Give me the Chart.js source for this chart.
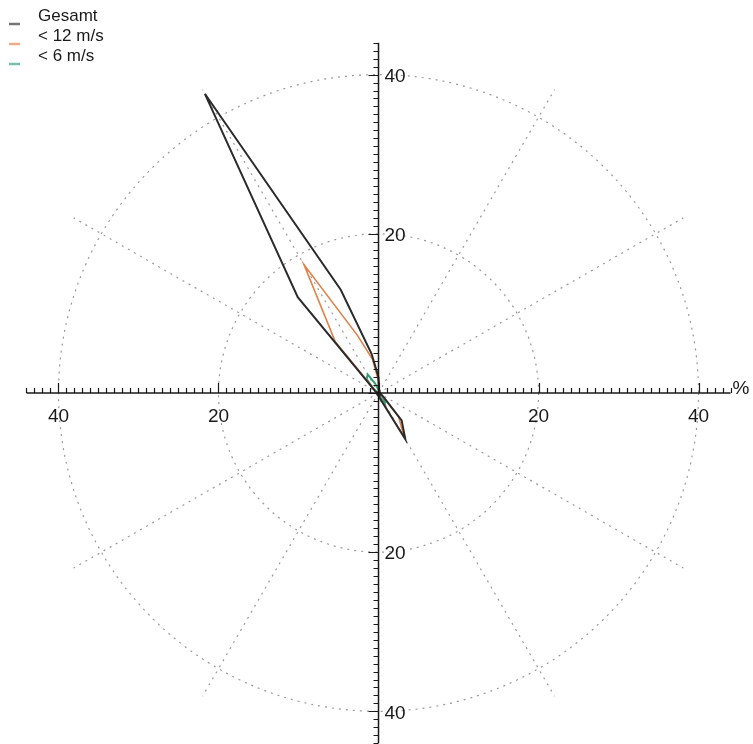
<!DOCTYPE html>
<html>
<head>
  <meta charset="UTF-8">
  <title>Windrose</title>
  <style>
    html, body { margin: 0; padding: 0; background: #fff; }
    #wrap { width: 753px; height: 744px; }
  </style>
</head>
<body>
<div id="wrap">
  <canvas id="myChart"></canvas>
</div>
<script src="https://cdn.jsdelivr.net/npm/chart.js"></script>
<script>
// Richtungen in Grad (10er Sektoren), Werte in %
const directions = [0, 10, 20, 30, 40, 50, 60, 70, 80, 90, 100, 110, 120, 130, 140, 150, 160, 170,
  180, 190, 200, 210, 220, 230, 240, 250, 260, 270, 280, 290, 300, 310, 320, 330, 340, 350];
const gesamt = [2.0, 0.4, 0.3, 0.2, 0.2, 0.2, 0.2, 0.2, 0.2, 0.2, 0.2, 0.3, 0.4, 0.9, 4.5, 6.7, 1.0, 0.5,
  0.3, 0.2, 0.2, 0.2, 0.2, 0.2, 0.2, 0.2, 0.2, 0.2, 0.2, 0.3, 0.5, 0.9, 15.7, 43.4, 13.8, 5.0];
const unter12 = [1.5, 0.3, 0.2, 0.1, 0.1, 0.1, 0.1, 0.1, 0.1, 0.1, 0.1, 0.2, 0.3, 0.7, 3.9, 6.5, 0.9, 0.4,
  0.2, 0.1, 0.1, 0.1, 0.1, 0.1, 0.1, 0.1, 0.1, 0.1, 0.1, 0.2, 0.4, 0.6, 8.4, 18.6, 7.7, 4.3];
const unter6 = [0.4, 0.2, 0.1, 0.1, 0.1, 0.1, 0.1, 0.1, 0.1, 0.1, 0.1, 0.1, 0.2, 0.5, 1.2, 1.6, 0.6, 0.3,
  0.1, 0.1, 0.1, 0.1, 0.1, 0.1, 0.1, 0.1, 0.1, 0.1, 0.1, 0.1, 0.3, 0.9, 2.3, 2.7, 1.3, 0.6];
const seriesLabels = ['Gesamt', '< 12 m/s', '< 6 m/s'];
const tickLabels = [20, 40];
const gridRings = [20, 40];
const spokeAngles = [30, 60, 120, 150, 210, 240, 300, 330];
const axisMax = 44;

const colors = ['#2b2b2b', '#e0814a', '#2e9f76'];

// polar -> x/y (0 Grad = Nord, im Uhrzeigersinn)
function toXY(vals) {
  const pts = vals.map((r, i) => {
    const a = directions[i] * Math.PI / 180;
    return { x: r * Math.sin(a), y: r * Math.cos(a) };
  });
  pts.push(pts[0]);
  return pts;
}

const roseGrid = {
  id: 'roseGrid',
  beforeDatasetsDraw(chart) {
    const ctx = chart.ctx, xs = chart.scales.x, ys = chart.scales.y;
    const cx = xs.getPixelForValue(0), cy = ys.getPixelForValue(0);
    ctx.save();
    ctx.strokeStyle = '#9a9a9a';
    ctx.lineWidth = 1.2;
    ctx.setLineDash([2, 5]);
    gridRings.forEach(r => {
      const rx = xs.getPixelForValue(r) - cx;
      const ry = cy - ys.getPixelForValue(r);
      ctx.beginPath();
      ctx.ellipse(cx, cy, rx, ry, 0, 0, Math.PI * 2);
      ctx.stroke();
    });
    spokeAngles.forEach(d => {
      const a = d * Math.PI / 180;
      ctx.beginPath();
      ctx.moveTo(cx, cy);
      ctx.lineTo(xs.getPixelForValue(axisMax * Math.sin(a)), ys.getPixelForValue(axisMax * Math.cos(a)));
      ctx.stroke();
    });
    ctx.restore();
  },
  afterDatasetsDraw(chart) {
    const ctx = chart.ctx, xs = chart.scales.x, ys = chart.scales.y;
    const cx = xs.getPixelForValue(0), cy = ys.getPixelForValue(0);
    ctx.save();
    ctx.strokeStyle = '#1a1a1a';
    ctx.lineWidth = 1.5;
    ctx.beginPath();
    ctx.moveTo(xs.getPixelForValue(-axisMax), cy);
    ctx.lineTo(xs.getPixelForValue(axisMax), cy);
    ctx.moveTo(cx, ys.getPixelForValue(axisMax));
    ctx.lineTo(cx, ys.getPixelForValue(-axisMax));
    ctx.stroke();
    ctx.lineWidth = 1.2;
    ctx.beginPath();
    for (let v = -axisMax; v <= axisMax; v++) {
      const len = (v % 20 === 0) ? 10 : 5;
      const px = Math.round(xs.getPixelForValue(v)) + 0.5;
      ctx.moveTo(px, cy);
      ctx.lineTo(px, cy - len);
      const py = Math.round(ys.getPixelForValue(v)) + 0.5;
      ctx.moveTo(cx, py);
      ctx.lineTo(cx - len, py);
    }
    ctx.stroke();

    ctx.fillStyle = '#1a1a1a';
    ctx.font = '19px "Liberation Sans", Arial, sans-serif';
    ctx.textAlign = 'center';
    ctx.textBaseline = 'middle';
    tickLabels.forEach(t => {
      [-t, t].forEach(v => ctx.fillText(String(t), xs.getPixelForValue(v), cy + 24));
    });
    ctx.textAlign = 'left';
    tickLabels.forEach(t => {
      [-t, t].forEach(v => ctx.fillText(String(t), cx + 6, ys.getPixelForValue(v) + 2));
    });
    ctx.fillText('%', xs.getPixelForValue(axisMax) + 2, cy - 4);

    // Legende
    ctx.font = '17px "Liberation Sans", Arial, sans-serif';
    ctx.textBaseline = 'alphabetic';
    chart.data.datasets.forEach((ds, i) => {
      const y = 21 + i * 20;
      ctx.fillStyle = '#1a1a1a';
      ctx.fillText(ds.label, 38, y);
      ctx.globalAlpha = 0.65;
      ctx.strokeStyle = ds.borderColor;
      ctx.lineWidth = 2.5;
      ctx.beginPath();
      ctx.moveTo(9, y + 3);
      ctx.lineTo(20, y + 3);
      ctx.stroke();
      ctx.globalAlpha = 1;
    });
    ctx.restore();
  }
};

const datasets = [gesamt, unter12, unter6].map((vals, i) => ({
  label: seriesLabels[i],
  data: toXY(vals),
  borderColor: colors[i],
  backgroundColor: colors[i],
  borderWidth: i === 1 ? 1.6 : 2,
  showLine: true,
  fill: false,
  pointRadius: 0,
  tension: 0
}));

const config = {
  type: 'scatter',
  data: { datasets: datasets },
  options: {
    responsive: true,
    maintainAspectRatio: false,
    animation: false,
    layout: { padding: 0 },
    plugins: { legend: { display: false }, tooltip: { enabled: false } },
    scales: {
      x: { type: 'linear', min: -47.31, max: 46.81, display: false },
      y: { type: 'linear', min: -44.1, max: 49.37, display: false }
    }
  },
  plugins: [roseGrid]
};

const myChart = new Chart(document.getElementById('myChart'), config);
</script>
</body>
</html>
